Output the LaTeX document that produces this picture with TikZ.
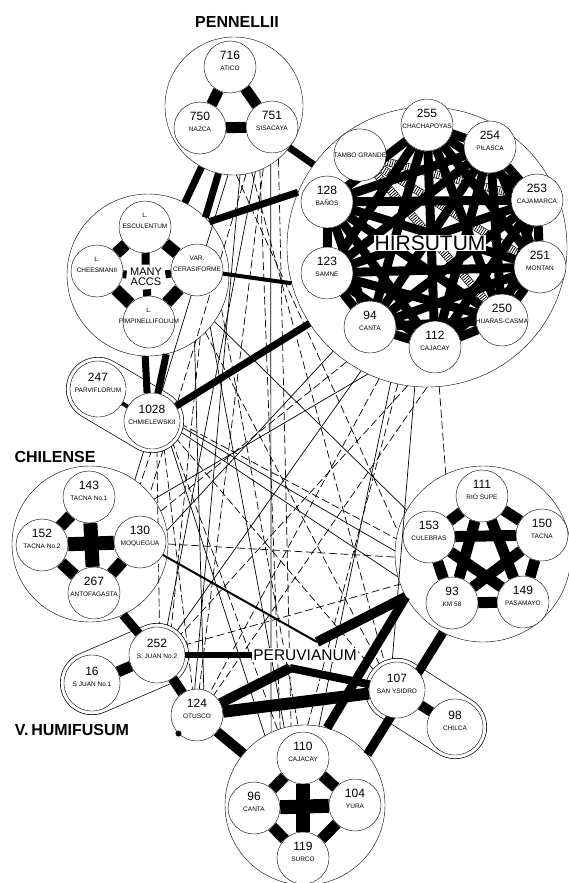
\documentclass[tikz,border=0pt]{standalone}
\usepackage{fontspec}
\setmainfont{Liberation Sans}
\pgfdeclarelayer{bg}
\pgfdeclarelayer{mid}
\pgfsetlayers{bg,mid,main}
\newcommand{\numf}{\fontsize{12}{12}\selectfont}
\newcommand{\namef}{\fontsize{6.5}{10.5}\selectfont}
\newcommand{\acctxt}[3][\numf]{\makebox[0pt]{#1#2}\\\makebox[0pt]{#3}}
\tikzset{
  acc/.style={circle, draw, fill=white, minimum size=52pt, inner sep=0pt,
    align=center, font=\namef, text depth=12pt},
  group/.style={circle, draw, inner sep=0pt},
  bar/.style={line width=#1},
  link/.style={line width=0.7pt},
  dlink/.style={line width=0.7pt, dash pattern=on 8pt off 3.5pt},
  capsule/.style={line width=64pt, line cap=round,
    postaction={draw, white, line width=62.6pt, line cap=round}},
  hatch/.style={line width=8pt,
    postaction={draw, white, line width=6.6pt},
    postaction={draw, line width=6.6pt, dash pattern=on 0.7pt off 1.6pt}},
  title/.style={font=\bfseries\fontsize{16}{16}\selectfont}
}
\begin{document}
\begin{tikzpicture}[x=1pt, y=-1pt]
  \useasboundingbox (0,0) rectangle (569,883);
  % species groups
  \node[group, minimum size=138pt] (cPen) at (234,106) {};
  \node[group, minimum size=162pt] (cEsc) at (148,275) {};
  \node[group, minimum size=280pt] (cHir) at (427,247) {};
  \node[group, minimum size=156pt] (cChi) at (90,544) {};
  \node[group, minimum size=176pt] (cPer) at (483,554) {};
  \node[group, minimum size=160pt] (cBot) at (305,805) {};
  \node[title] (tPen) at (237,22) {PENNELLII};
  \node[title] (tChi) at (55,457) {CHILENSE};
  \node[title] (tHum) at (72,730) {V.\,HUMIFUSUM};
  % accessions
  \foreach \n/\x/\y/\num/\name in {
    ati/230/67/716/ATICO, naz/200/128/750/NAZCA, sis/272/127/751/SISACAYA,
    chach/427/125/255/CHACHAPOYAS, pila/490/147/254/PILASCA,
    banos/327/202/128/BAÑOS, caja/537/200/253/CAJAMARCA,
    samne/327/273/123/SAMNE, montan/540/267/251/MONTAN,
    cantah/370/327/94/CANTA, cajach/435/347/112/CAJACAY,
    huaras/502/320/250/HUARAS-CASMA,
    tac1/89/497/143/TACNA No.1, tac2/42/545/152/TACNA No.2,
    moq/140/542/130/MOQUEGUA, anto/94/593/267/ANTOFAGASTA,
    supe/482/496/111/RIO SUPE, cule/429/537/153/CULEBRAS,
    tacn/542/535/150/TACNA, km/452/603/93/KM 58, pasa/523/602/149/PASAMAYO,
    cajb/303/758/110/CAJACAY, cantb/254/808/96/CANTA,
    yura/355/805/104/YURA, surco/303/858/119/SURCO,
    otu/197/715/124/OTUSCO}
    \node[acc] (\n) at (\x,\y) {\acctxt{\num}{\name}};
  \foreach \n/\x/\y/\num/\name in {
    parv/98/389/247/PARVIFLORUM, chm/152/421/1028/CHMIELEWSKII,
    sj2/157/655/252/S. JUAN No.2, sj1/92/683/16/S JUAN No.1,
    ysi/397/690/107/SAN YSIDRO, chil/455/727/98/CHILCA}
    \node[acc, minimum size=56pt] (\n) at (\x,\y) {\acctxt{\num}{\name}};
  \foreach \n/\x/\y/\top/\name in {
    escu/145/227/L./ESCULENTUM, chee/97/271/L./CHEESMANII,
    cera/197/270/VAR./CERASIFORME, pimp/149/322/L./PIMPINELLIFOLIUM}
    \node[acc] (\n) at (\x,\y) {\acctxt[\namef]{\top}{\name}};
  \node[acc, text depth=0pt] (tambo) at (360,155) {TAMBO GRANDE};
  \node[font=\fontsize{11}{10}\selectfont, align=center] (many) at (146,277) {MANY\\ACCS};
  \node[fill=white, inner sep=1pt, font=\fontsize{21}{21}\selectfont] (hirlab) at (430,243) {HIRSUTUM};
  \node[fill=white, inner sep=1.5pt, font=\fontsize{15.5}{16}\selectfont] (perlab) at (305,655) {PERUVIANUM};
  \fill (otu.225) circle (3pt);
  \coordinate (jA) at (317,642);
  \coordinate (jB) at (290,668);

  \begin{pgfonlayer}{bg}
    \foreach \a/\b/\s in {
      cPen.-80/cChi.40/dlink, cPen.-72/sj2.70/link, cPen.-65/otu.85/dlink,
      cPen.-58/cBot.115/link, cPen.-50/cBot.100/dlink, cPen.-88/cPer.165/dlink,
      cPen.-95/cChi.55/link, cPen.-85/otu.95/link, cPen.-68/cBot.108/dlink,
      cPen.-75/ysi.115/dlink, cEsc.-35/cPer.150/link, cEsc.-45/ysi.125/dlink,
      cEsc.-25/cBot.95/dlink, cEsc.-55/otu.75/link, cEsc.-40/cBot.105/link,
      cEsc.-50/sj2.60/dlink, chm.-5/cPer.170/dlink, chm.-10/cPer.178/link,
      chm.-20/cPer.195/link, chm.-35/ysi.140/dlink, chm.-50/cBot.120/link,
      chm.-45/cBot.110/dlink, chm.-65/otu.100/dlink, chm.-80/sj2.85/dlink,
      chm.-90/cChi.50/dlink, cHir.235/cChi.25/dlink, cHir.242/sj2.50/link,
      cHir.250/otu.60/dlink, cHir.258/cBot.88/dlink, cHir.265/ysi.100/link,
      cHir.275/cPer.115/dlink, cHir.228/cChi.10/link, cHir.245/cChi.35/link,
      cHir.255/cBot.80/link, cHir.262/sj2.40/dlink, cHir.270/otu.50/dlink,
      cChi.0/cPer.182/dlink, sj2.20/cPer.200/dlink}
      \draw[\s] (\a) -- (\b);
    \draw[capsule] (parv.center) -- (chm.center);
    \draw[capsule] (sj1.center) -- (sj2.center);
    \draw[capsule] (ysi.center) -- (chil.center);
  \end{pgfonlayer}

  \begin{pgfonlayer}{mid}
    % links between groups
    \foreach \a/\b/\w in {
      cPen.-118/cEsc.63/7, cPen.-103/cEsc.45/7, cPen.-37/cHir.144/7,
      cEsc.41/cHir.157/7, cera/cHir.195/4, cEsc.-92/chm.100/7,
      cEsc.-77/chm.78/7, chm/cHir.213/7, parv/chm/4,
      cChi.-65/sj2/9, sj1/sj2/11, sj2/otu/10, sj2/perlab/6,
      otu/jB/10, jB/ysi/8, moq/jA/2, jA/cPer.209/10, otu/ysi/12,
      otu/cBot/10, cPer.209/cBot.74/9, cPer.243/cBot.39/9, ysi/chil/10}
      \draw[bar=\w pt] (\a) -- (\b);
    % inside the groups
    \foreach \a/\b/\w in {
      ati/naz/11, ati/sis/11, naz/sis/11,
      many/escu/8, many/chee/8, many/cera/8, many/pimp/8,
      escu/cera/12, cera/pimp/12, pimp/chee/12, chee/escu/12,
      tac1/anto/14, tac2/moq/14, tac1/tac2/12, tac2/anto/12, anto/moq/12,
      cajb/surco/14, cantb/yura/14, cajb/cantb/11, cajb/yura/11,
      cantb/surco/11, yura/surco/11}
      \draw[bar=\w pt] (\a) -- (\b);
    \foreach \a [count=\i] in {supe,tacn,pasa,km,cule}
      \foreach \b [count=\j] in {supe,tacn,pasa,km,cule}
        {\ifnum\j>\i \draw[bar=11pt] (\a) -- (\b); \fi}
    \foreach \a/\b in {tambo/caja, tambo/montan, banos/montan, banos/pila, tambo/huaras}
      \draw[hatch] (\a) -- (\b);
    \foreach \a [count=\i] in {chach,pila,caja,montan,huaras,cajach,cantah,samne,banos}
      \foreach \b [count=\j] in {chach,pila,caja,montan,huaras,cajach,cantah,samne,banos}
        {\ifnum\j>\i \draw[bar=9pt] (\a) -- (\b); \fi}
  \end{pgfonlayer}
\end{tikzpicture}
\end{document}
